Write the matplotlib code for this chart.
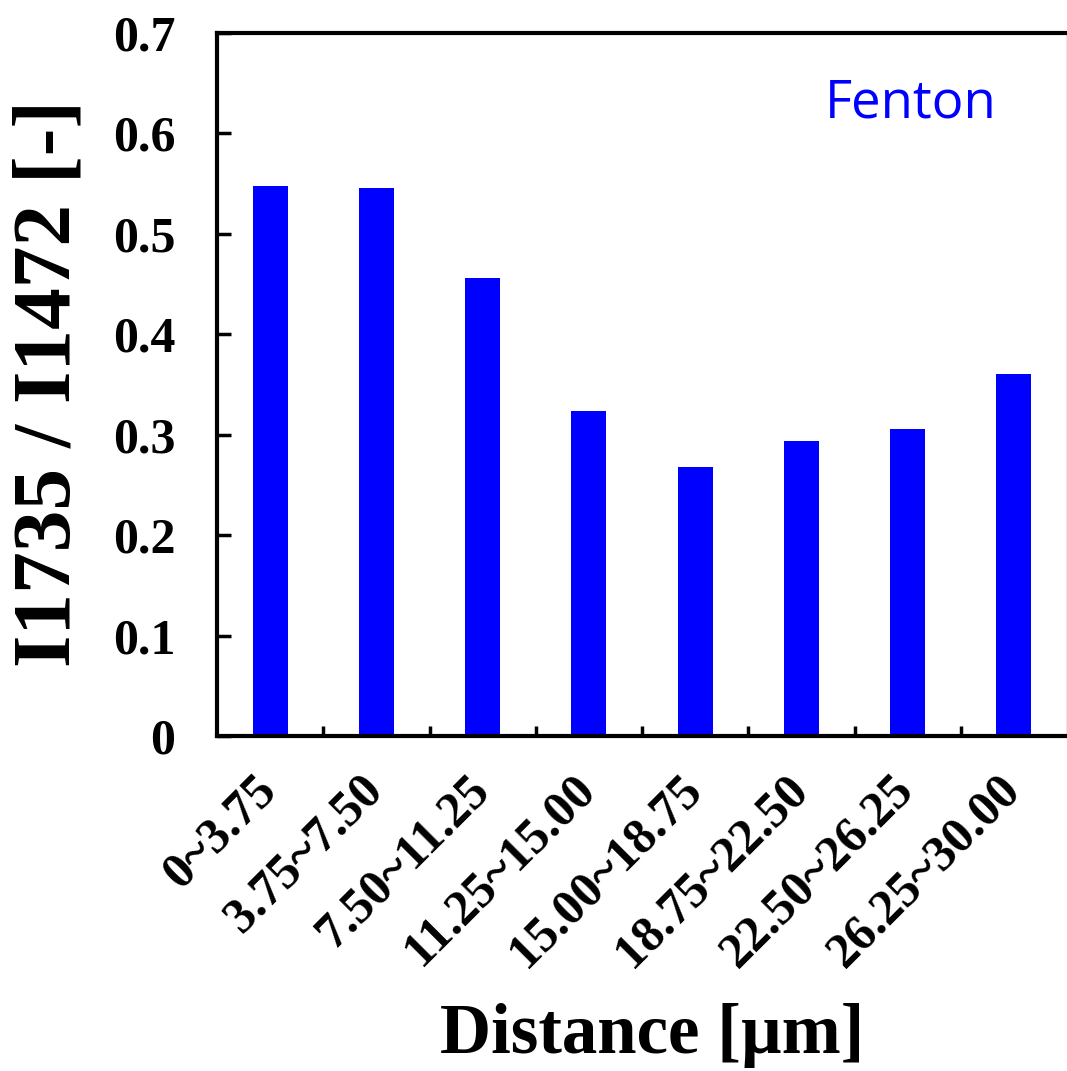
import matplotlib.pyplot as plt
import matplotlib.transforms as mtransforms
import numpy as np

categories = ['0~3.75', '3.75~7.50', '7.50~11.25', '11.25~15.00',
              '15.00~18.75', '18.75~22.50', '22.50~26.25', '26.25~30.00']
ratio = [0.548, 0.546, 0.456, 0.324, 0.268, 0.294, 0.306, 0.360]
yticks = [0, 0.1, 0.2, 0.3, 0.4, 0.5, 0.6, 0.7]
ytick_labels = ['0', '0.1', '0.2', '0.3', '0.4', '0.5', '0.6', '0.7']

plt.rcParams['font.family'] = ['Liberation Serif', 'DejaVu Serif']
plt.rcParams['font.weight'] = 'bold'

fig = plt.figure(figsize=(10.67, 10.71), dpi=100)
ax = fig.add_axes([217 / 1067, 1 - 736 / 1071, 850 / 1067, 703 / 1071])

x = np.arange(len(categories))
ax.bar(x, ratio, width=0.33, color='#0000ff')

ax.set_xlim(-0.5, len(categories) - 0.5)
ax.set_ylim(0, 0.7)
ax.set_yticks(yticks)
ax.set_yticklabels(ytick_labels, fontsize=36, fontweight='bold')
ax.set_xticks(x)
ax.set_xticklabels(categories, fontsize=36, fontweight='bold',
                   rotation=45, ha='right', va='top', rotation_mode='anchor')
ax.tick_params(axis='x', length=0, pad=22)
shift = mtransforms.ScaledTranslation(-0.17, 0, fig.dpi_scale_trans)
for lab in ax.get_xticklabels():
    lab.set_transform(lab.get_transform() + shift)
ax.set_xticks(x[:-1] + 0.5, minor=True)
ax.tick_params(axis='x', which='minor', direction='in', length=7, width=2.5)
ax.tick_params(axis='y', direction='in', length=10, width=2.5, pad=30)

for side in ['left', 'bottom', 'top']:
    ax.spines[side].set_linewidth(3)
ax.spines['right'].set_linewidth(1)
ax.spines['right'].set_color('#888888')

ax.set_ylabel('I1735 / I1472 [-]', fontsize=60, fontweight='bold')
ax.yaxis.set_label_coords(-0.152, 0.502)
ax.set_xlabel('Distance [µm]', fontsize=51, fontweight='bold')
ax.xaxis.set_label_coords(0.512, -0.38)

ax.text(0.816, 0.900, 'Fenton', transform=ax.transAxes, color='#0000ff',
        fontsize=38, fontweight='normal', family=['Open Sans', 'DejaVu Sans'],
        ha='center', va='center')

fig.savefig('out.png', dpi=100)
